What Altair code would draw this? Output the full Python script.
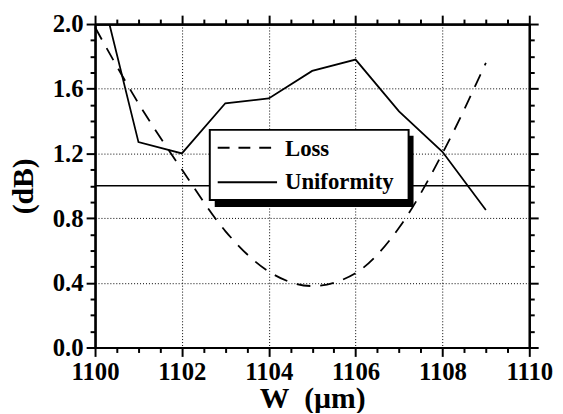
import altair as alt
import pandas as pd

# ---- data ----
w_vals = [1100, 1101, 1102, 1103, 1104, 1105, 1106, 1107, 1108, 1109]
loss = [1.98, 1.51, 1.10, 0.72, 0.47, 0.38, 0.46, 0.74, 1.20, 1.76]
uniformity = [2.36, 1.27, 1.20, 1.51, 1.54, 1.71, 1.78, 1.46, 1.21, 0.85]
series_names = ["Loss", "Uniformity"]
ref_level = [1.0]

x_major = [1100, 1102, 1104, 1106, 1108, 1110]
x_minor = [1100.5, 1101, 1101.5, 1102.5, 1103, 1103.5, 1104.5, 1105, 1105.5,
           1106.5, 1107, 1107.5, 1108.5, 1109, 1109.5]
y_major = [0.0, 0.4, 0.8, 1.2, 1.6, 2.0]
y_minor = [0.1, 0.2, 0.3, 0.5, 0.6, 0.7, 0.9, 1.0, 1.1, 1.3, 1.4, 1.5, 1.7, 1.8, 1.9]

FONT = "Liberation Serif"
DASH = [14, 10]

df = pd.DataFrame({
    "W": w_vals * 2,
    "dB": loss + uniformity,
    "series": [series_names[0]] * len(w_vals) + [series_names[1]] * len(w_vals),
})
ref_df = pd.DataFrame({"v": ref_level})
one = pd.DataFrame({"a": [0]})

xscale = alt.Scale(domain=[1100, 1110], nice=False, zero=False)
yscale = alt.Scale(domain=[0, 2.0], nice=False, zero=False)


def axis(orient, values, size, labels=False, grid=False, title=None, fmt="d",
         title_pad=0):
    kw = dict(orient=orient, values=values, tickSize=size, labels=labels,
              grid=grid, domainColor="black", domainWidth=2.2, tickColor="black",
              tickWidth=2, ticks=True, title=title)
    if labels:
        kw.update(labelFont=FONT, labelFontSize=25, labelFontWeight="bold",
                  labelColor="black", labelPadding=3, format=fmt,
                  labelOverlap=False, labelFlush=False)
    if grid:
        kw.update(gridColor="black", gridDash=[1, 2], gridWidth=1, gridOpacity=1)
    if title is not None:
        kw.update(titleFont=FONT, titleFontSize=30, titleFontWeight="bold",
                  titleColor="black", titlePadding=title_pad)
    return alt.Axis(**kw)


base = alt.Chart(df)

loss_line = base.transform_filter(alt.datum.series == series_names[0]).mark_line(
    color="black", strokeWidth=1.8, interpolate="monotone", strokeDash=DASH
).encode(
    x=alt.X("W:Q", scale=xscale,
            axis=axis("bottom", x_major, 9, labels=True, grid=True,
                      title="W\u00a0\u00a0(µm)", fmt="d", title_pad=0)),
    y=alt.Y("dB:Q", scale=yscale,
            axis=axis("left", y_major, 9, labels=True, grid=True,
                      title="(dB)", fmt=".1f", title_pad=14)),
)

unif_line = base.transform_filter(alt.datum.series == series_names[1]).mark_line(
    color="black", strokeWidth=1.8, clip=True
).encode(
    x=alt.X("W:Q", scale=xscale, axis=axis("top", x_major, 9)),
    y=alt.Y("dB:Q", scale=yscale, axis=axis("right", y_major, 9)),
)

minor_a = base.mark_point(opacity=0).encode(
    x=alt.X("W:Q", scale=xscale, axis=axis("bottom", x_minor, 5)),
    y=alt.Y("dB:Q", scale=yscale, axis=axis("left", y_minor, 5)),
)
minor_b = base.mark_point(opacity=0).encode(
    x=alt.X("W:Q", scale=xscale, axis=axis("top", x_minor, 5)),
    y=alt.Y("dB:Q", scale=yscale, axis=axis("right", y_minor, 5)),
)

rule = alt.Chart(ref_df).mark_rule(color="black", strokeWidth=1.5).encode(
    y=alt.Y("v:Q", scale=yscale, axis=None)
)

# ---- legend (drawn as a framed box with a drop shadow) ----
shadow = alt.Chart(one).mark_rect(color="black").encode(
    x=alt.value(121), x2=alt.value(322), y=alt.value(113), y2=alt.value(185)
)
box = alt.Chart(one).mark_rect(fill="white", stroke="black", strokeWidth=2).encode(
    x=alt.value(116), x2=alt.value(317), y=alt.value(107), y2=alt.value(178)
)
leg_dash = alt.Chart(one).mark_rule(color="black", strokeWidth=2,
                                    strokeDash=[12, 9]).encode(
    x=alt.value(124), x2=alt.value(184), y=alt.value(125)
)
leg_solid = alt.Chart(one).mark_rule(color="black", strokeWidth=2).encode(
    x=alt.value(124), x2=alt.value(184), y=alt.value(160)
)
text_style = dict(font=FONT, fontSize=23, fontWeight="bold", color="black",
                  align="left", baseline="alphabetic")
leg_t1 = alt.Chart(one).mark_text(**text_style).encode(
    x=alt.value(192), y=alt.value(133), text=alt.value(series_names[0])
)
leg_t2 = alt.Chart(one).mark_text(**text_style).encode(
    x=alt.value(192), y=alt.value(167), text=alt.value(series_names[1])
)

chart = alt.layer(
    loss_line, unif_line, minor_a, minor_b, rule,
    shadow, box, leg_dash, leg_solid, leg_t1, leg_t2
).resolve_axis(x="independent", y="independent").properties(
    width=439,
    height=327,
    autosize=alt.AutoSizeParams(type="none"),
    padding={"left": 88, "top": 14, "right": 26, "bottom": 64},
).configure_view(strokeWidth=0)

chart.save("out.html", embed_options={"renderer": "svg", "actions": False})
